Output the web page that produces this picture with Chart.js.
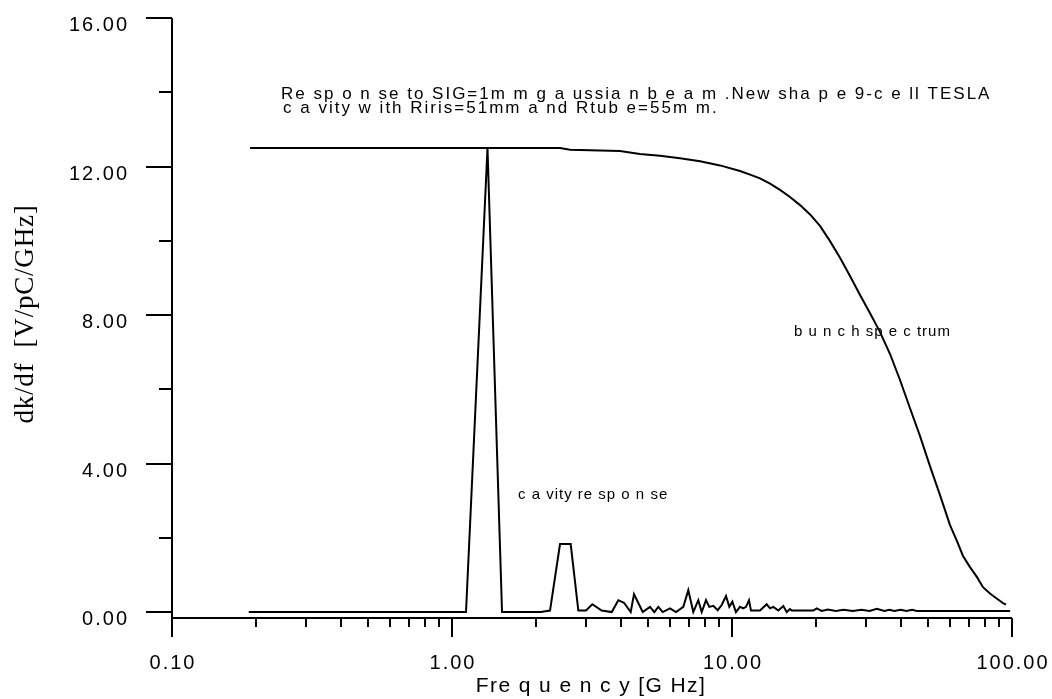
<!DOCTYPE html>
<html>
<head>
<meta charset="utf-8">
<script src="https://cdn.jsdelivr.net/npm/chart.js@4"></script>
<style>
  html, body { margin: 0; padding: 0; background: #fff; }
  #wrap { width: 1052px; height: 699px; position: relative; }
</style>
</head>
<body>
<div id="wrap"><canvas id="kickChart"></canvas></div>
<script>
// bunch spectrum of the 1 mm gaussian beam
const bunchFreq = [0.19, 2.43, 2.64, 3.98, 4.69, 5.53, 6.52, 7.69, 9.06, 10.68, 11.60, 12.59, 13.67, 14.84, 16.11, 17.50, 19.00, 20.62, 22.39, 24.31, 26.39, 28.66, 31.12, 33.79, 36.68, 39.81, 43.23, 46.94, 50.94, 55.32, 60.06, 63.62, 66.83, 70.79, 74.99, 78.78, 83.44, 88.40, 92.88, 95.2];
const bunchVal = [12.50, 12.50, 12.45, 12.42, 12.34, 12.29, 12.22, 12.14, 12.03, 11.88, 11.78, 11.68, 11.54, 11.37, 11.18, 10.96, 10.71, 10.40, 9.99, 9.54, 9.05, 8.54, 8.05, 7.54, 6.95, 6.25, 5.49, 4.74, 3.93, 3.15, 2.34, 1.91, 1.51, 1.21, 0.94, 0.67, 0.50, 0.36, 0.24, 0.20];

// cavity response
const cavFreq = [0.188, 1.122, 1.339, 1.509, 2.074, 2.239, 2.431, 2.654, 2.826, 3.010, 3.171, 3.424, 3.720, 3.926, 4.114, 4.347, 4.467, 4.799, 5.095, 5.279, 5.456, 5.657, 6.005, 6.310, 6.700, 6.981, 7.274, 7.579, 7.795, 8.075, 8.296, 8.574, 8.890, 9.188, 9.519, 9.781, 10.03, 10.33, 10.68, 10.97, 11.22, 11.50, 11.69, 12.59, 13.30, 13.67, 14.05, 14.64, 15.25, 15.68, 16.11, 16.34, 19.51, 20.06, 20.9, 22.0, 23.5, 25.0, 27.0, 29.0, 31.0, 32.9, 35.0, 36.5, 38.0, 40.0, 42.0, 44.0, 45.7, 98.5];
const cavVal = [0, 0, 12.5, 0, 0, 0.04, 1.83, 1.83, 0.04, 0.04, 0.21, 0.04, 0, 0.32, 0.25, 0, 0.48, 0, 0.14, 0, 0.14, 0, 0.10, 0, 0.14, 0.59, 0, 0.32, 0, 0.32, 0.14, 0.17, 0.05, 0.19, 0.43, 0.14, 0.28, 0, 0.14, 0.10, 0.14, 0.32, 0.04, 0.04, 0.21, 0.10, 0.14, 0.04, 0.16, 0, 0.08, 0.04, 0.04, 0.10, 0.03, 0.07, 0.03, 0.06, 0.03, 0.06, 0.03, 0.09, 0.03, 0.06, 0.03, 0.06, 0.03, 0.06, 0.03, 0.03];

// axis ticks
const yTicks = [0, 2, 4, 6, 8, 10, 12, 14, 16];
const yTickLabels = ['0.00', '', '4.00', '', '8.00', '', '12.00', '', '16.00'];
const xMajor = [0.1, 1, 10, 100];
const xTickLabels = ['0.10', '1.00', '10.00', '100.00'];

const titleLines = [
  'Re sp o n se to SIG=1m m g a ussia n b e a m .New sha p e 9-c e ll TESLA',
  'c a vity w ith Riris=51mm a nd Rtub e=55m m.'
];

const toPoints = (xs, ys) => xs.map((x, i) => ({ x: x, y: ys[i] }));

const SANS = '"Liberation Sans", Arial, sans-serif';

// axes, ticks, labels and notes drawn by hand
const frameAxes = {
  id: 'frameAxes',
  afterDraw(chart) {
    const ctx = chart.ctx;
    const xs = chart.scales.x;
    const ys = chart.scales.y;
    const area = chart.chartArea;
    const x0 = area.left, yb = area.bottom;

    ctx.save();
    ctx.strokeStyle = '#000';
    ctx.lineWidth = 2;
    ctx.lineCap = 'butt';

    // axis lines
    ctx.beginPath();
    ctx.moveTo(x0, area.top);
    ctx.lineTo(x0, yb + 19);
    ctx.moveTo(x0, yb);
    ctx.lineTo(area.right, yb);
    ctx.stroke();

    // y ticks
    ctx.beginPath();
    yTicks.forEach((v, i) => {
      const py = Math.round(ys.getPixelForValue(v));
      const len = yTickLabels[i] ? 26 : 13;
      ctx.moveTo(x0 - len, py);
      ctx.lineTo(x0, py);
    });
    // x ticks
    xMajor.forEach((d, i) => {
      const px = Math.round(xs.getPixelForValue(d));
      ctx.moveTo(px, yb);
      ctx.lineTo(px, yb + 19);
      if (i < xMajor.length - 1) {
        for (let k = 2; k <= 9; k++) {
          const mx = Math.round(xs.getPixelForValue(d * k));
          ctx.moveTo(mx, yb);
          ctx.lineTo(mx, yb + 9);
        }
      }
    });
    ctx.stroke();

    ctx.fillStyle = '#000';
    ctx.font = '20px ' + SANS;
    ctx.letterSpacing = '2px';

    // y tick labels
    ctx.textAlign = 'right';
    ctx.textBaseline = 'alphabetic';
    yTicks.forEach((v, i) => {
      if (!yTickLabels[i]) return;
      ctx.fillText(yTickLabels[i], 129, ys.getPixelForValue(v) + 13);
    });

    // x tick labels
    ctx.textAlign = 'center';
    xMajor.forEach((d, i) => {
      ctx.fillText(xTickLabels[i], xs.getPixelForValue(d) + 1, 669);
    });

    // x title
    ctx.font = '21px ' + SANS;
    ctx.letterSpacing = '1.4px';
    ctx.fillText('Fre q u e n c y [G Hz]', 591, 692);

    // y title
    ctx.save();
    ctx.translate(33, 314);
    ctx.rotate(-Math.PI / 2);
    ctx.font = '27px "Liberation Serif", "Times New Roman", serif';
    ctx.letterSpacing = '0.8px';
    ctx.textAlign = 'center';
    ctx.fillText('dk/df  [V/pC/GHz]', 0, 0);
    ctx.restore();

    // notes
    ctx.textAlign = 'left';
    ctx.font = '17px ' + SANS;
    ctx.letterSpacing = '2px';
    ctx.fillText(titleLines[0], 281, 99);
    ctx.fillText(titleLines[1], 283, 113);

    ctx.font = '15px ' + SANS;
    ctx.letterSpacing = '1px';
    ctx.fillText('c a vity re sp o n se', 518, 499);
    ctx.fillText('b u n c h sp e c trum', 794, 336);

    ctx.restore();
  }
};

new Chart(document.getElementById('kickChart'), {
  type: 'line',
  data: {
    datasets: [
      {
        label: 'bunch spectrum',
        data: toPoints(bunchFreq, bunchVal),
        borderColor: '#000',
        borderWidth: 2,
        pointRadius: 0,
        tension: 0,
        fill: false
      },
      {
        label: 'cavity response',
        data: toPoints(cavFreq, cavVal),
        borderColor: '#000',
        borderWidth: 2,
        pointRadius: 0,
        tension: 0,
        fill: false
      }
    ]
  },
  options: {
    responsive: true,
    maintainAspectRatio: false,
    animation: false,
    layout: { padding: { left: 172, right: 40, top: 18, bottom: 81 } },
    plugins: {
      legend: { display: false },
      tooltip: { enabled: false }
    },
    scales: {
      x: { type: 'logarithmic', min: 0.1, max: 100, display: false },
      y: { type: 'linear', min: -0.16, max: 16, display: false }
    }
  },
  plugins: [frameAxes]
});
</script>
</body>
</html>
